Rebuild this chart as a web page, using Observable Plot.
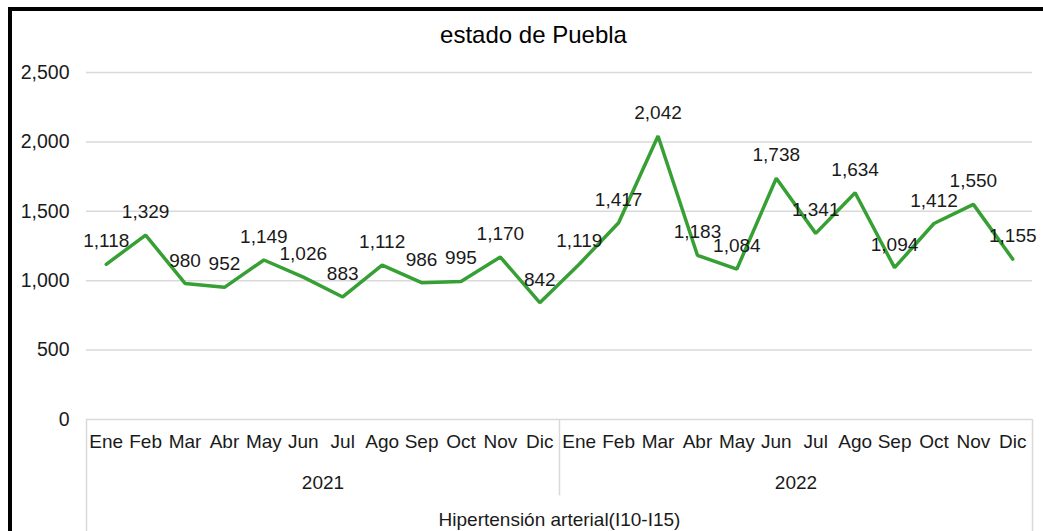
<!DOCTYPE html>
<html>
<head>
<meta charset="utf-8">
<script src="https://cdn.jsdelivr.net/npm/d3@7"></script>
<script src="https://cdn.jsdelivr.net/npm/@observablehq/plot@0.6"></script>
<style>
  html, body { margin: 0; padding: 0; background: #fff; }
  #wrap { position: relative; width: 1043px; height: 531px; overflow: hidden; }
  #frame { position: absolute; left: 8px; top: 7px; width: 1100px; height: 600px;
           border-left: 4px solid #000; border-top: 4px solid #000; pointer-events: none; }
  svg { font-family: "Liberation Sans", Arial, sans-serif; }
</style>
</head>
<body>
<div id="wrap"><div id="frame"></div></div>
<script>
const title = "estado de Puebla";
const seriesName = "Hipertensión arterial(I10-I15)";
const months = ["Ene","Feb","Mar","Abr","May","Jun","Jul","Ago","Sep","Oct","Nov","Dic"];
const years = ["2021", "2022"];
const values2021 = [1118, 1329, 980, 952, 1149, 1026, 883, 1112, 986, 995, 1170, 842];
const values2022 = [1119, 1417, 2042, 1183, 1084, 1738, 1341, 1634, 1094, 1412, 1550, 1155];
const yTicks = [0, 500, 1000, 1500, 2000, 2500];

const data = [];
[values2021, values2022].forEach((vals, yi) => {
  vals.forEach((v, mi) => data.push({i: yi * months.length + mi, month: months[mi], year: years[yi], value: v}));
});
const n = data.length;
const yearData = years.map((y, yi) => ({year: y, mid: yi * months.length + (months.length - 1) / 2}));
const outerBounds = [-0.5, n - 0.5];
const innerBounds = years.slice(1).map((y, yi) => (yi + 1) * months.length - 0.5);

const fmt = d3.format(",");
const txt = "#1a1a1a";

const chart = Plot.plot({
  width: 1043,
  height: 531,
  marginLeft: 86,
  marginRight: 11,
  marginTop: 72,
  marginBottom: 112,
  style: {fontFamily: "'Liberation Sans', Arial, sans-serif", fontSize: "19px", background: "transparent", overflow: "visible"},
  x: {domain: [-0.5, n - 0.5], axis: null},
  y: {domain: [0, 2500], axis: null},
  marks: [
    Plot.ruleY(yTicks, {stroke: "#d9d9d9", strokeWidth: 1.5}),
    Plot.text(yTicks, {x: -0.5, y: d => d, text: d => fmt(d), textAnchor: "end", dx: -17, fill: txt, fontSize: 19.5}),
    // category axis separators
    Plot.ruleX(outerBounds, {y1: 0, y2: -900, stroke: "#d9d9d9", strokeWidth: 1.5}),
    Plot.ruleX(innerBounds, {y1: 0, y2: -550, stroke: "#d9d9d9", strokeWidth: 1.5}),
    Plot.text(data, {x: "i", y: 0, text: "month", dy: 22, fill: txt, fontSize: 19}),
    Plot.text(yearData, {x: "mid", y: 0, text: "year", dy: 63, fill: txt, fontSize: 19}),
    Plot.text([seriesName], {x: (n - 1) / 2, y: 0, text: d => d, dy: 100, fill: txt, fontSize: 19}),
    Plot.text([title], {frameAnchor: "top", lineAnchor: "middle", text: d => d, dx: -26, dy: -37, fill: "#000", fontSize: 24}),
    Plot.line(data, {x: "i", y: "value", stroke: "#37a035", strokeWidth: 3.5, strokeLinejoin: "miter"}),
    Plot.text(data, {x: "i", y: "value", text: d => fmt(d.value), dy: -23, fill: txt, fontSize: 19})
  ]
});
document.getElementById("wrap").prepend(chart);
</script>
</body>
</html>
